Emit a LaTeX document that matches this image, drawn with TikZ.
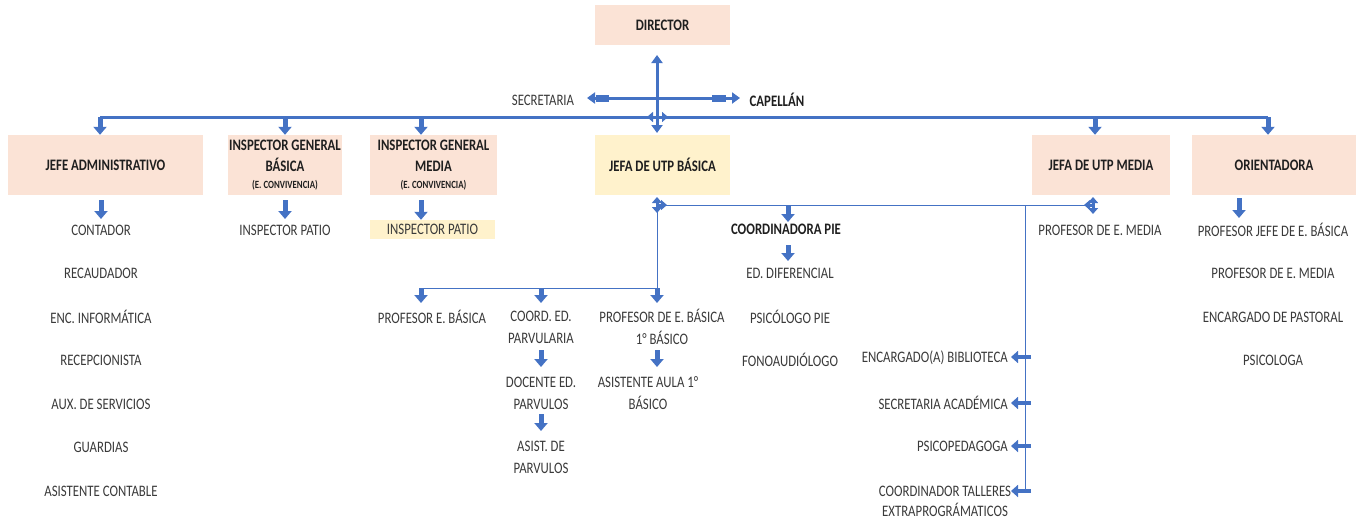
\documentclass[tikz,border=0pt]{standalone}
\usepackage{fontspec}
\setmainfont{Carlito}[FakeStretch=0.8]
\usetikzlibrary{arrows.meta}
\definecolor{salmon}{HTML}{FBE3D6}
\definecolor{lyel}{HTML}{FFF2CC}
\definecolor{ablue}{HTML}{4472C4}
\definecolor{txt}{HTML}{3A3A3A}
\tikzset{
  box/.style={fill=salmon, draw=none, minimum height=60pt, inner sep=0pt, align=center,
    font=\fontsize{16}{21}\selectfont\bfseries, text=black!88},
  lbl/.style={inner sep=0pt, align=center, font=\fontsize{16}{22}\selectfont, text=txt},
  blbl/.style={lbl, font=\fontsize{16}{22}\selectfont\bfseries, text=black!88},
  barrow/.style={draw=ablue, line width=5pt, -{Triangle[length=8pt,width=13pt]}},
  larrow/.style={draw=ablue, line width=4pt, -{Triangle[length=7pt,width=12pt]}},
  sarrow/.style={draw=ablue, line width=3pt, -{Triangle[length=6pt,width=10pt]}},
  dbl/.style={draw=ablue, line width=3pt, {Triangle[length=8pt,width=11pt]}-{Triangle[length=8pt,width=11pt]}},
  thinl/.style={draw=ablue, line width=1pt},
  mline/.style={draw=ablue, line width=3pt},
}
\begin{document}
\begin{tikzpicture}[x=1pt,y=-1pt]
\useasboundingbox (0,0) rectangle (1356,523);

% ---- top level
\node[box, minimum width=135pt, minimum height=40pt] (dir) at (662.5,25) {DIRECTOR};
\node[lbl] (sec) at (543,100) {SECRETARIA};
\node[blbl] (cap) at (777,100) {CAPELLÁN};

% ---- second row boxes
\node[box, minimum width=195pt] (ja) at (105.5,165) {JEFE ADMINISTRATIVO};
\node[box, minimum width=114pt] (igb) at (285,165) {INSPECTOR GENERAL\\BÁSICA\\[-4pt]{\fontsize{11}{12}\selectfont (E. CONVIVENCIA)}};
\node[box, minimum width=127pt] (igm) at (433.5,165) {INSPECTOR GENERAL\\MEDIA\\[-4pt]{\fontsize{11}{12}\selectfont (E. CONVIVENCIA)}};
\node[box, fill=lyel, minimum width=135pt] (jub) at (662.5,165) {JEFA DE UTP BÁSICA};
\node[box, minimum width=138pt] (jum) at (1101,165) {JEFA DE UTP MEDIA};
\node[box, minimum width=164pt] (ori) at (1274,165) {ORIENTADORA};

% ---- director connectors
\coordinate (dtop) at (657,55);
\coordinate (dbot) at (657,133);
\coordinate (sl) at (587,98);
\coordinate (sr) at (740,98);
\draw[dbl] (dtop) -- (dbot);
\draw[dbl] (sl) -- (sr);
\draw[ablue, line width=7pt] (596,98) -- (609,98);
\draw[ablue, line width=7pt] (712,98) -- (726,98);
\draw[ablue, line width=3pt, {Triangle[length=6pt,width=10pt]}-{Triangle[length=6pt,width=10pt]}] (647,117) -- (668,117);

% ---- main line
\coordinate (m1) at (100,117);
\coordinate (m2) at (285,117);
\coordinate (m3) at (421,117);
\coordinate (m5) at (1095,117);
\coordinate (m6) at (1268,117);
\draw[mline] (m1) -- (m6);
\draw[barrow] (m1) -- (m1 |- ja.north);
\draw[barrow] (m2) -- (m2 |- igb.north);
\draw[barrow] (m3) -- (m3 |- igm.north);
\draw[barrow] (m5) -- (m5 |- jum.north);
\draw[barrow] (m6) -- (m6 |- ori.north);

% ---- left column
\node[lbl] (c1) at (101,230) {CONTADOR};
\node[lbl] (c2) at (101,273) {RECAUDADOR};
\node[lbl] (c3) at (101,317) {ENC. INFORMÁTICA};
\node[lbl] (c4) at (101,360) {RECEPCIONISTA};
\node[lbl] (c5) at (101,404) {AUX. DE SERVICIOS};
\node[lbl] (c6) at (101,447) {GUARDIAS};
\node[lbl] (c7) at (101,491) {ASISTENTE CONTABLE};
\draw[barrow] (101,200) -- (101,219);

% ---- inspectors
\node[lbl] (ip1) at (285,230) {INSPECTOR PATIO};
\node[lbl, fill=lyel, minimum width=125pt, minimum height=19pt] (ip2) at (432.5,229.5) {INSPECTOR PATIO};
\draw[barrow] (285,200) -- (285,219);
\draw[barrow] (421,200) -- (ip2.north -| 421,0);

% ---- JEFA UTP BASICA branch
\coordinate (jb) at (657,205);
\coordinate (jm) at (1093,205);
\coordinate (r0) at (657,288);
\coordinate (r1) at (421,288);
\coordinate (r2) at (541,288);
\coordinate (vt) at (1025,205);
\coordinate (vb) at (1025,491);
\draw[thinl] (jb) -- (jm);
\draw[thinl] (jb) -- (r0) -- (r1);
\draw[sarrow] (jb) -- (657,197);
\draw[sarrow] (jb) -- (667,205);
\draw[sarrow] (jb) -- (657,213);

\node[lbl] (peb) at (432,317) {PROFESOR E. BÁSICA};
\node[lbl] (cep) at (541,327) {COORD. ED.\\PARVULARIA};
\node[lbl] (dep) at (541,393) {DOCENTE ED.\\PARVULOS};
\node[lbl] (adp) at (541,457) {ASIST. DE\\PARVULOS};
\node[lbl] (pdeb) at (662,327) {PROFESOR DE E. BÁSICA\\1° BÁSICO};
\node[lbl] (aa) at (648,393) {ASISTENTE AULA 1°\\BÁSICO};
\draw[barrow] (r1) -- (421,303);
\draw[barrow] (r2) -- (541,303);
\draw[barrow] (r0) -- (657,303);
\draw[barrow] (541,350) -- (541,367);
\draw[barrow] (541,414) -- (541,431);
\draw[barrow] (657,350) -- (657,367);

% ---- PIE
\node[blbl] (cpie) at (786,229) {COORDINADORA PIE};
\node[lbl] (edd) at (790,273) {ED. DIFERENCIAL};
\node[lbl] (psp) at (790,317) {PSICÓLOGO PIE};
\node[lbl] (fon) at (790,360) {FONOAUDIÓLOGO};
\draw[barrow] (788,206) -- (788,222);
\draw[barrow] (788,245) -- (788,261);

% ---- right vertical branch
\draw[thinl] (vt) -- (vb);
\node[lbl, anchor=east] (bib) at (1008,358) {ENCARGADO(A) BIBLIOTECA};
\node[lbl, anchor=east] (sac) at (1008,403) {SECRETARIA ACADÉMICA};
\node[lbl, anchor=east] (psi) at (1008,446) {PSICOPEDAGOGA};
\node[lbl, font=\fontsize{16}{20}\selectfont] (cte) at (945,501) {COORDINADOR TALLERES\\EXTRAPROGRÁMATICOS};
\draw[larrow] (1031,357) -- (1011,357);
\draw[larrow] (1031,403) -- (1011,403);
\draw[larrow] (1031,446) -- (1011,446);
\draw[larrow] (1031,491) -- (1011,491);

% ---- JEFA UTP MEDIA
\node[lbl] (pem) at (1100,230) {PROFESOR DE E. MEDIA};
\draw[sarrow] (jm) -- (1093,197);
\draw[sarrow] (jm) -- (1084,205);
\draw[sarrow] (jm) -- (1093,214);

% ---- ORIENTADORA
\node[lbl] (o1) at (1273,230) {PROFESOR JEFE DE E. BÁSICA};
\node[lbl] (o2) at (1273,273) {PROFESOR DE E. MEDIA};
\node[lbl] (o3) at (1273,317) {ENCARGADO DE PASTORAL};
\node[lbl] (o4) at (1273,360) {PSICOLOGA};
\draw[barrow] (1239,198) -- (1239,218);
\end{tikzpicture}
\end{document}
